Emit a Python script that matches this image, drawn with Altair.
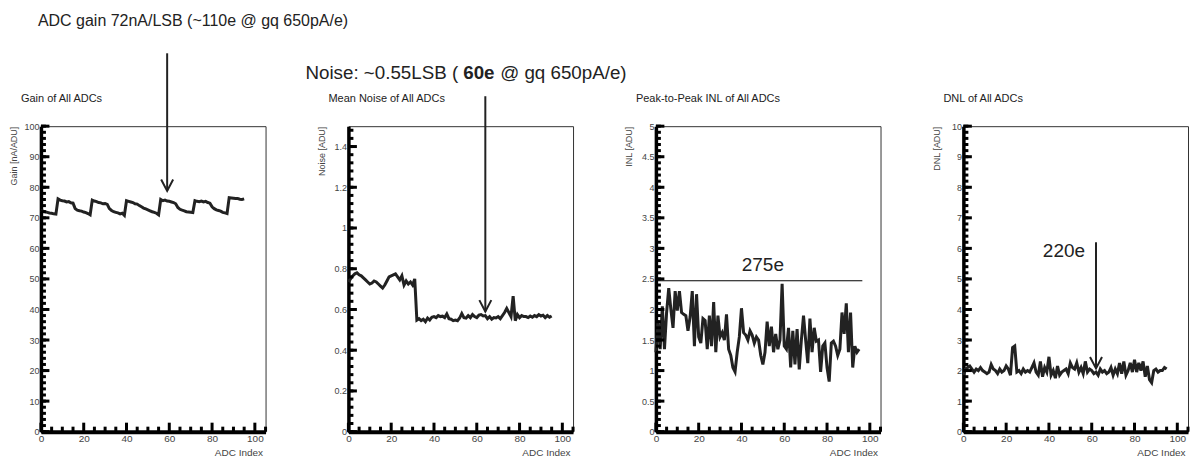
import altair as alt
import pandas as pd

# ---------------- data ----------------
adc_index = list(range(96))

gain = [72.4, 72.2, 72.0, 71.8, 71.6, 71.5, 71.3, 71.2,
        76.2, 75.8, 75.6, 75.5, 75.2, 75.3, 74.9, 74.8,
        73.0, 72.5, 72.3, 72.2, 71.9, 71.7, 71.4, 71.0,
        75.8, 75.5, 75.3, 75.0, 74.9, 74.6, 74.7, 74.4,
        73.0, 72.4, 72.0, 71.8, 71.6, 71.3, 71.5, 70.8,
        75.6, 75.4, 75.2, 75.0, 74.6, 74.5, 74.0, 73.6,
        73.2, 72.9, 72.6, 72.3, 72.0, 71.8, 71.5, 71.0,
        76.0, 75.6, 75.8, 75.5, 75.4, 75.2, 75.0, 74.6,
        73.4, 72.8, 72.5, 72.3, 72.0, 71.9, 71.8, 71.7,
        75.6, 75.4, 75.3, 75.5, 75.2, 75.4, 75.0, 74.8,
        73.6, 73.0, 72.6, 72.4, 72.2, 71.8, 71.6, 71.4,
        76.6, 76.5, 76.4, 76.3, 76.3, 76.1, 76.0, 76.2]

noise = [0.735, 0.75, 0.765, 0.775, 0.78, 0.77, 0.765, 0.755, 0.745, 0.735,
         0.725, 0.73, 0.74, 0.735, 0.725, 0.715, 0.705, 0.72, 0.74, 0.76,
         0.765, 0.77, 0.775, 0.76, 0.745, 0.765, 0.72, 0.74, 0.725, 0.735,
         0.72, 0.75,
         0.548, 0.555, 0.545, 0.552, 0.54, 0.558, 0.548, 0.562, 0.565, 0.56,
         0.57, 0.565, 0.567, 0.56, 0.578, 0.555, 0.552, 0.545, 0.548, 0.545,
         0.558, 0.58, 0.56, 0.558, 0.57, 0.56, 0.575, 0.565, 0.56, 0.572,
         0.575, 0.568, 0.57, 0.555, 0.565, 0.552, 0.56, 0.558, 0.565, 0.555,
         0.57, 0.585, 0.605, 0.585, 0.565, 0.665, 0.545, 0.575, 0.56, 0.57,
         0.565, 0.565, 0.56, 0.568, 0.562, 0.57, 0.565, 0.575, 0.568, 0.572,
         0.56, 0.57, 0.562, 0.568]

inl = [1.30, 1.82, 1.35, 2.05, 1.35, 1.95, 2.35, 2.00, 1.70, 2.30,
       1.98, 2.30, 1.95, 1.92, 1.90, 1.65, 1.88, 2.30, 1.40, 2.25,
       1.55, 1.45, 1.85, 1.82, 1.35, 1.90, 1.40, 2.12, 1.30, 1.90,
       1.55, 1.62, 1.50, 1.92, 1.35, 1.25, 1.05, 0.98, 1.30, 1.55,
       2.02, 1.62, 1.58, 1.50, 1.65, 1.58, 1.45, 1.55, 1.50, 1.25,
       1.10, 1.30, 1.80, 1.40, 1.72, 1.30, 1.60, 1.35, 1.50, 2.42,
       1.40, 1.35, 1.70, 1.05, 1.65, 1.10, 1.68, 1.02, 1.50, 1.90,
       1.50, 1.12, 1.85, 1.30, 1.70, 1.48, 1.50, 0.98, 1.40, 1.45,
       1.05, 0.82, 1.45, 1.48, 1.40, 1.25, 1.35, 1.95, 1.60, 2.10,
       1.30, 1.95, 1.05, 1.40, 1.30, 1.35]

dnl = [1.85, 2.05, 2.10, 2.15, 2.05, 1.95, 2.05, 2.00, 2.10, 2.00,
       1.95, 1.90, 1.95, 2.20, 2.05, 2.00, 1.90, 2.05, 1.95, 2.00,
       2.15, 2.05, 1.85, 2.75, 2.80, 1.95, 2.00, 1.90, 2.05, 1.95,
       2.00, 1.95, 2.10, 2.25, 1.95, 1.85, 2.30, 1.80, 2.10, 1.95,
       2.45, 1.85, 2.00, 1.75, 2.15, 1.85, 1.95, 2.00, 2.05, 1.90,
       2.25, 2.10, 2.05, 2.25, 1.95, 2.10, 1.90, 2.30, 1.95, 2.05,
       2.00, 1.90, 1.95, 1.85, 2.05, 1.95, 2.00, 1.90, 1.95, 2.10,
       1.85, 2.05, 1.90, 2.25, 1.90, 2.30, 1.85, 2.00, 2.25, 1.95,
       2.35, 1.95, 2.25, 2.00, 2.30, 1.80, 2.15, 1.70, 1.60, 2.00,
       2.05, 1.95, 2.00, 2.00, 2.10, 2.05]

panel_titles = ["Gain of All ADCs", "Mean Noise of All ADCs",
                "Peak-to-Peak INL of All ADCs", "DNL of All ADCs"]
y_titles = ["Gain [nA/ADU]", "Noise [ADU]", "INL [ADU]", "DNL [ADU]"]
x_title = "ADC Index"
y_domains = [[0, 100], [0, 1.5], [0, 5], [0, 10]]
y_major = [[0, 10, 20, 30, 40, 50, 60, 70, 80, 90, 100],
           [0, 0.2, 0.4, 0.6, 0.8, 1.0, 1.2, 1.4],
           [0, 0.5, 1, 1.5, 2, 2.5, 3, 3.5, 4, 4.5, 5],
           [0, 1, 2, 3, 4, 5, 6, 7, 8, 9, 10]]
y_minor = [[2 * i for i in range(51)],
           [round(0.04 * i, 2) for i in range(38)],
           [round(0.1 * i, 1) for i in range(51)],
           [round(0.2 * i, 1) for i in range(51)]]
x_domain = [0, 105]
x_major = [0, 20, 40, 60, 80, 100]
x_minor = [5, 10, 15, 25, 30, 35, 45, 50, 55, 65, 70, 75, 85, 90, 95, 105]

gain_note = "ADC gain 72nA/LSB (~110e @ gq 650pA/e)"
noise_note = ["Noise: ~0.55LSB (", "60e", "@ gq 650pA/e)"]
gain_arrow = {"x": [59.0], "tip": [78.8]}
noise_arrow = {"x": [64.0], "tip": [0.59]}
dnl_arrow = {"x": [62.0], "top": [6.2], "tip": [2.07]}
inl_level = {"x0": [0.0], "x1": [96.5], "y": [2.47]}
inl_label = {"x": [50.0], "y": [2.73], "t": ["275e"]}
dnl_label = {"x": [47.0], "y": [5.92], "t": ["220e"]}

# ---------------- styling ----------------
W, H = 225, 306
INK = "#222222"
LBL = "#444444"
FONT = "Liberation Sans"
ARROW = "M-1,-1.9L0,0L1,-1.9"
one = pd.DataFrame({"k": [0]})


def make_axes(i):
    xa = alt.Axis(values=x_major, ticks=False, grid=False,
                  domainColor="black", domainWidth=4,
                  labelFontSize=10, labelColor=LBL, labelPadding=2,
                  labelFlush=False, labelOverlap=False,
                  title=x_title, titleX=W - 3, titleY=21,
                  titleAlign="right", titleBaseline="middle",
                  titleFontSize=10, titleFontWeight="normal", titleColor=LBL)
    ya = alt.Axis(values=y_major[i], labelExpr="'' + datum.value", ticks=False,
                  grid=False, domainColor="black", domainWidth=3.5,
                  labelFontSize=9, labelColor=LBL, labelPadding=2,
                  labelFlush=False, labelOverlap=False,
                  title=y_titles[i], titleX=-31, titleY=0,
                  titleAngle=270, titleAlign="right",
                  titleBaseline="top", titleFontSize=9,
                  titleFontWeight="normal", titleColor=LBL)
    return xa, ya


def panel(i, values, extra_fn):
    xs = alt.Scale(domain=x_domain, nice=False, zero=False)
    ys = alt.Scale(domain=y_domains[i], nice=False, zero=False)
    xa, ya = make_axes(i)

    def X(f):
        return alt.X(f, scale=xs, axis=xa, title=x_title)

    def Y(f):
        return alt.Y(f, scale=ys, axis=ya, title=y_titles[i])

    df = pd.DataFrame({"x": adc_index, "y": values})
    line = alt.Chart(df).mark_line(color=INK, strokeWidth=3).encode(
        x=X("x:Q"), y=Y("y:Q"))
    ymin = alt.Chart(pd.DataFrame({"v": y_minor[i]})).mark_rule(
        color="black", strokeWidth=3).encode(
        y=Y("v:Q"), x=alt.value(0), x2=alt.value(5))
    ymaj = alt.Chart(pd.DataFrame({"v": y_major[i]})).mark_rule(
        color="black", strokeWidth=3).encode(
        y=Y("v:Q"), x=alt.value(0), x2=alt.value(8.5))
    xmin = alt.Chart(pd.DataFrame({"v": x_minor})).mark_rule(
        color="black", strokeWidth=3).encode(
        x=X("v:Q"), y=alt.value(H), y2=alt.value(H - 5))
    xmaj = alt.Chart(pd.DataFrame({"v": x_major})).mark_rule(
        color="black", strokeWidth=3).encode(
        x=X("v:Q"), y=alt.value(H), y2=alt.value(H - 9))
    title = alt.Chart(one).mark_text(align="left", baseline="middle",
                                     fontSize=11, color="#222222").encode(
        x=alt.value(-20), y=alt.value(-27), text=alt.value(panel_titles[i]))
    layers = [line, ymin, ymaj, xmin, xmaj, title] + extra_fn(X, Y)
    return alt.layer(*layers).properties(width=W, height=H)


def arrow_layers(d, X, Y, top_px=None):
    df = pd.DataFrame(d)
    enc = dict(x=X("x:Q"), y=Y("tip:Q"))
    if top_px is None:
        enc["y2"] = alt.Y2("top:Q")
    else:
        enc["y2"] = alt.value(top_px)
    shaft = alt.Chart(df).mark_rule(color=INK, strokeWidth=2).encode(**enc)
    head = alt.Chart(df).mark_point(shape=ARROW, size=144, filled=False,
                                    strokeWidth=2, color=INK, opacity=1).encode(
        x=X("x:Q"), y=Y("tip:Q"))
    return [shaft, head]


def extras_gain(X, Y):
    note = alt.Chart(one).mark_text(align="left", baseline="middle",
                                    fontSize=16, color="#222222").encode(
        x=alt.value(-3), y=alt.value(-105), text=alt.value(gain_note))
    return arrow_layers(gain_arrow, X, Y, top_px=-73) + [note]


def extras_noise(X, Y):
    x0 = -43
    fs = 18.8
    p1 = alt.Chart(one).mark_text(align="left", baseline="middle", fontSize=fs,
                                  color="#222222").encode(
        x=alt.value(x0), y=alt.value(-53), text=alt.value(noise_note[0]))
    p2 = alt.Chart(one).mark_text(align="left", baseline="middle", fontSize=fs,
                                  fontWeight="bold", color="#222222").encode(
        x=alt.value(x0 + 158), y=alt.value(-53), text=alt.value(noise_note[1]))
    p3 = alt.Chart(one).mark_text(align="left", baseline="middle", fontSize=fs,
                                  color="#222222").encode(
        x=alt.value(x0 + 195), y=alt.value(-53), text=alt.value(noise_note[2]))
    return arrow_layers(noise_arrow, X, Y, top_px=-30) + [p1, p2, p3]


def extras_inl(X, Y):
    lvl = alt.Chart(pd.DataFrame(inl_level)).mark_rule(
        color="black", strokeWidth=1).encode(
        x=X("x0:Q"), x2="x1:Q", y=Y("y:Q"))
    lab = alt.Chart(pd.DataFrame(inl_label)).mark_text(
        fontSize=19, color="#222222", baseline="middle").encode(
        x=X("x:Q"), y=Y("y:Q"), text="t:N")
    return [lvl, lab]


def extras_dnl(X, Y):
    lab = alt.Chart(pd.DataFrame(dnl_label)).mark_text(
        fontSize=19, color="#222222", baseline="middle").encode(
        x=X("x:Q"), y=Y("y:Q"), text="t:N")
    return arrow_layers(dnl_arrow, X, Y) + [lab]


p1 = panel(0, gain, extras_gain)
p2 = panel(1, noise, extras_noise)
p3 = panel(2, inl, extras_inl)
p4 = panel(3, dnl, extras_dnl)

chart = alt.hconcat(p1, p2, p3, p4, spacing=83, bounds="flush",
                    padding={"left": 9, "top": 12, "right": 0, "bottom": 2}
                    ).configure(font=FONT, background="white"
                    ).configure_view(stroke="#333333", strokeWidth=1)

chart.save("out.html", embed_options={"renderer": "svg", "actions": False})
